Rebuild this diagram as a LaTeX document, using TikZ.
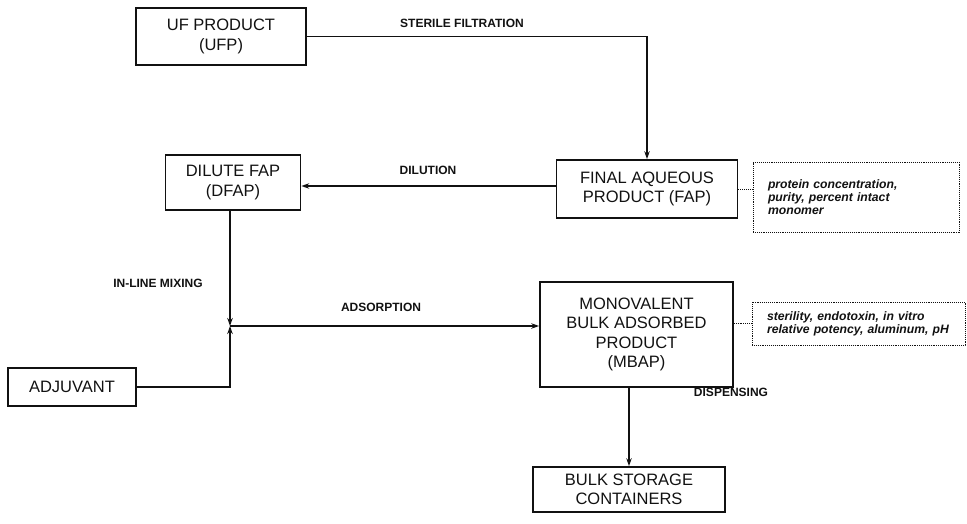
\documentclass[tikz,border=0pt]{standalone}
\usepackage{fontspec}
\setmainfont{Liberation Sans}
\usepackage{tikz}
\usetikzlibrary{arrows.meta,positioning,calc}
\definecolor{Ink}{HTML}{111111}
\tikzset{
  procbox/.style={draw=Ink,line width=1.7pt,align=center,inner sep=0pt,text=Ink,font=\fontsize{16.5}{19.5}\selectfont},
  notebox/.style={draw=Ink,line width=0.9pt,densely dotted,align=left,inner xsep=15pt,inner ysep=0pt,text=Ink,font=\fontsize{12.2}{13}\selectfont\bfseries\itshape},
  steplabel/.style={text=Ink,font=\fontsize{12}{13}\selectfont\bfseries},
  arrow/.style={-{Stealth[length=8pt,width=5.5pt]},line width=1.3pt,draw=Ink},
  link/.style={line width=1.3pt,draw=Ink},
  noteLink/.style={line width=0.9pt,densely dotted,draw=Ink}
}
\begin{document}
\begin{tikzpicture}[x=1pt,y=-1pt]
\useasboundingbox (0,0) rectangle (967,524);
\node[procbox,minimum width=170pt,minimum height=57pt] (ufp) at (221,36.5) {UF PRODUCT\\(UFP)};
\node[procbox,minimum width=181pt,minimum height=58pt] (fap) at (647,189) {FINAL AQUEOUS\\PRODUCT (FAP)};
\node[notebox,minimum width=206pt,minimum height=70pt,text width=176pt] (fapnote) at (856,197) {protein concentration,\\purity, percent intact\\monomer};
\node[procbox,minimum width=135pt,minimum height=55pt] (dfap) at (233,182.5) {DILUTE FAP\\(DFAP)};
\node[procbox,minimum width=128pt,minimum height=38pt] (adj) at (72,387) {ADJUVANT};
\node[procbox,minimum width=193pt,minimum height=105pt] (mbap) at (636.5,334.5) {MONOVALENT\\BULK ADSORBED\\PRODUCT\\(MBAP)};
\node[notebox,minimum width=213pt,minimum height=43pt,text width=183pt] (mbapnote) at (858.5,323.5) {sterility, endotoxin, in vitro\\relative potency, aluminum, pH};
\node[procbox,minimum width=192pt,minimum height=45pt] (bulk) at (629,489.5) {BULK STORAGE\\CONTAINERS};
\coordinate (mix) at (230,326);
% process flow
\draw[arrow] (ufp.east) -| (fap.north);
\draw[arrow] ([yshift=3pt]fap.west) -- ([yshift=3pt]fap.west -| dfap.east);
\draw[arrow] (dfap.south -| mix) -- (mix);
\draw[arrow] (adj.east) -| (mix);
\draw[arrow] (mix) -- (mix -| mbap.west);
\draw[arrow] (mbap.south -| bulk) -- (bulk.north);
% test notes
\draw[noteLink] (fap.east) -- (fap.east -| fapnote.west);
\draw[noteLink] (mbap.east |- mbapnote.west) -- (mbapnote.west);
% step labels
\node[steplabel] (sterile) at (462,23) {STERILE FILTRATION};
\node[steplabel] (dilution) at (428,170) {DILUTION};
\node[steplabel] (inline) at (158,283) {IN-LINE MIXING};
\node[steplabel] (adsorb) at (381,307) {ADSORPTION};
\node[steplabel] (dispense) at (731,392) {DISPENSING};
\end{tikzpicture}
\end{document}
